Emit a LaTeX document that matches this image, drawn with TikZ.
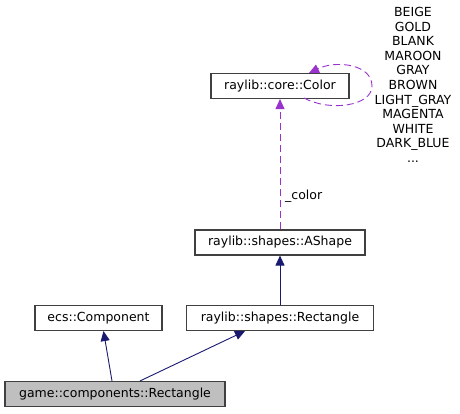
\documentclass[tikz,border=0pt]{standalone}
\usepackage{fontspec}
\setmainfont{DejaVu Sans}
\usetikzlibrary{arrows.meta}

\definecolor{inhcol}{HTML}{191970}
\definecolor{usecol}{HTML}{9A32CD}

\begin{document}
\begin{tikzpicture}[x=1pt,y=-1pt,
    font=\fontsize{12.5}{14.6}\selectfont,
    cls/.style={draw=black!75,line width=1.1pt,fill=white,minimum height=25pt,inner sep=0pt},
    inh/.style={inhcol,line width=0.9pt,-{Triangle[length=10pt,width=9pt]}},
    usage/.style={usecol,line width=0.9pt,dash pattern=on 7pt off 4pt,-{Triangle[length=10pt,width=9pt]}}]
		% Frame
		\useasboundingbox (0,0) rectangle (460,413);
		
		% Classes
		\node[cls,minimum width=138pt] (color) at (280,86) {raylib::core::Color};
		\node[cls,minimum width=170pt] (ashape) at (280,242.5) {raylib::shapes::AShape};
		\node[cls,minimum width=127pt] (ecscomp) at (98.5,318) {ecs::Component};
		\node[cls,minimum width=187pt] (shaperect) at (280,318) {raylib::shapes::Rectangle};
		\node[cls,minimum width=220pt,fill=black!25] (gamerect) at (115,394) {game::components::Rectangle};
		
		% Self loop on Color
		\coordinate (loopstart) at (304,98);
		\coordinate (loopend) at (309,73);
		\draw[usage] (loopstart) .. controls (330,112) and (372,106) .. (372,86)
			.. controls (372,64) and (336,60) .. (loopend);
		\node[anchor=north,align=center,inner sep=0pt] (consts) at (413,7)
			{BEIGE\\GOLD\\BLANK\\MAROON\\GRAY\\BROWN\\LIGHT\_GRAY\\MAGENTA\\WHITE\\DARK\_BLUE\\...};
		
		% Member usage
		\draw[usage] (ashape) -- (color);
		\node[anchor=west,inner sep=0pt] (colorlbl) at (285,196) {\_color};
		
		% Inheritance
		\draw[inh] (shaperect) -- (ashape);
		\draw[inh] ([xshift=-3pt]gamerect.north) -- ([xshift=5pt]ecscomp.south);
		\draw[inh] ([xshift=25pt]gamerect.north) -- ([xshift=-35pt]shaperect.south);
	\end{tikzpicture}
\end{document}
